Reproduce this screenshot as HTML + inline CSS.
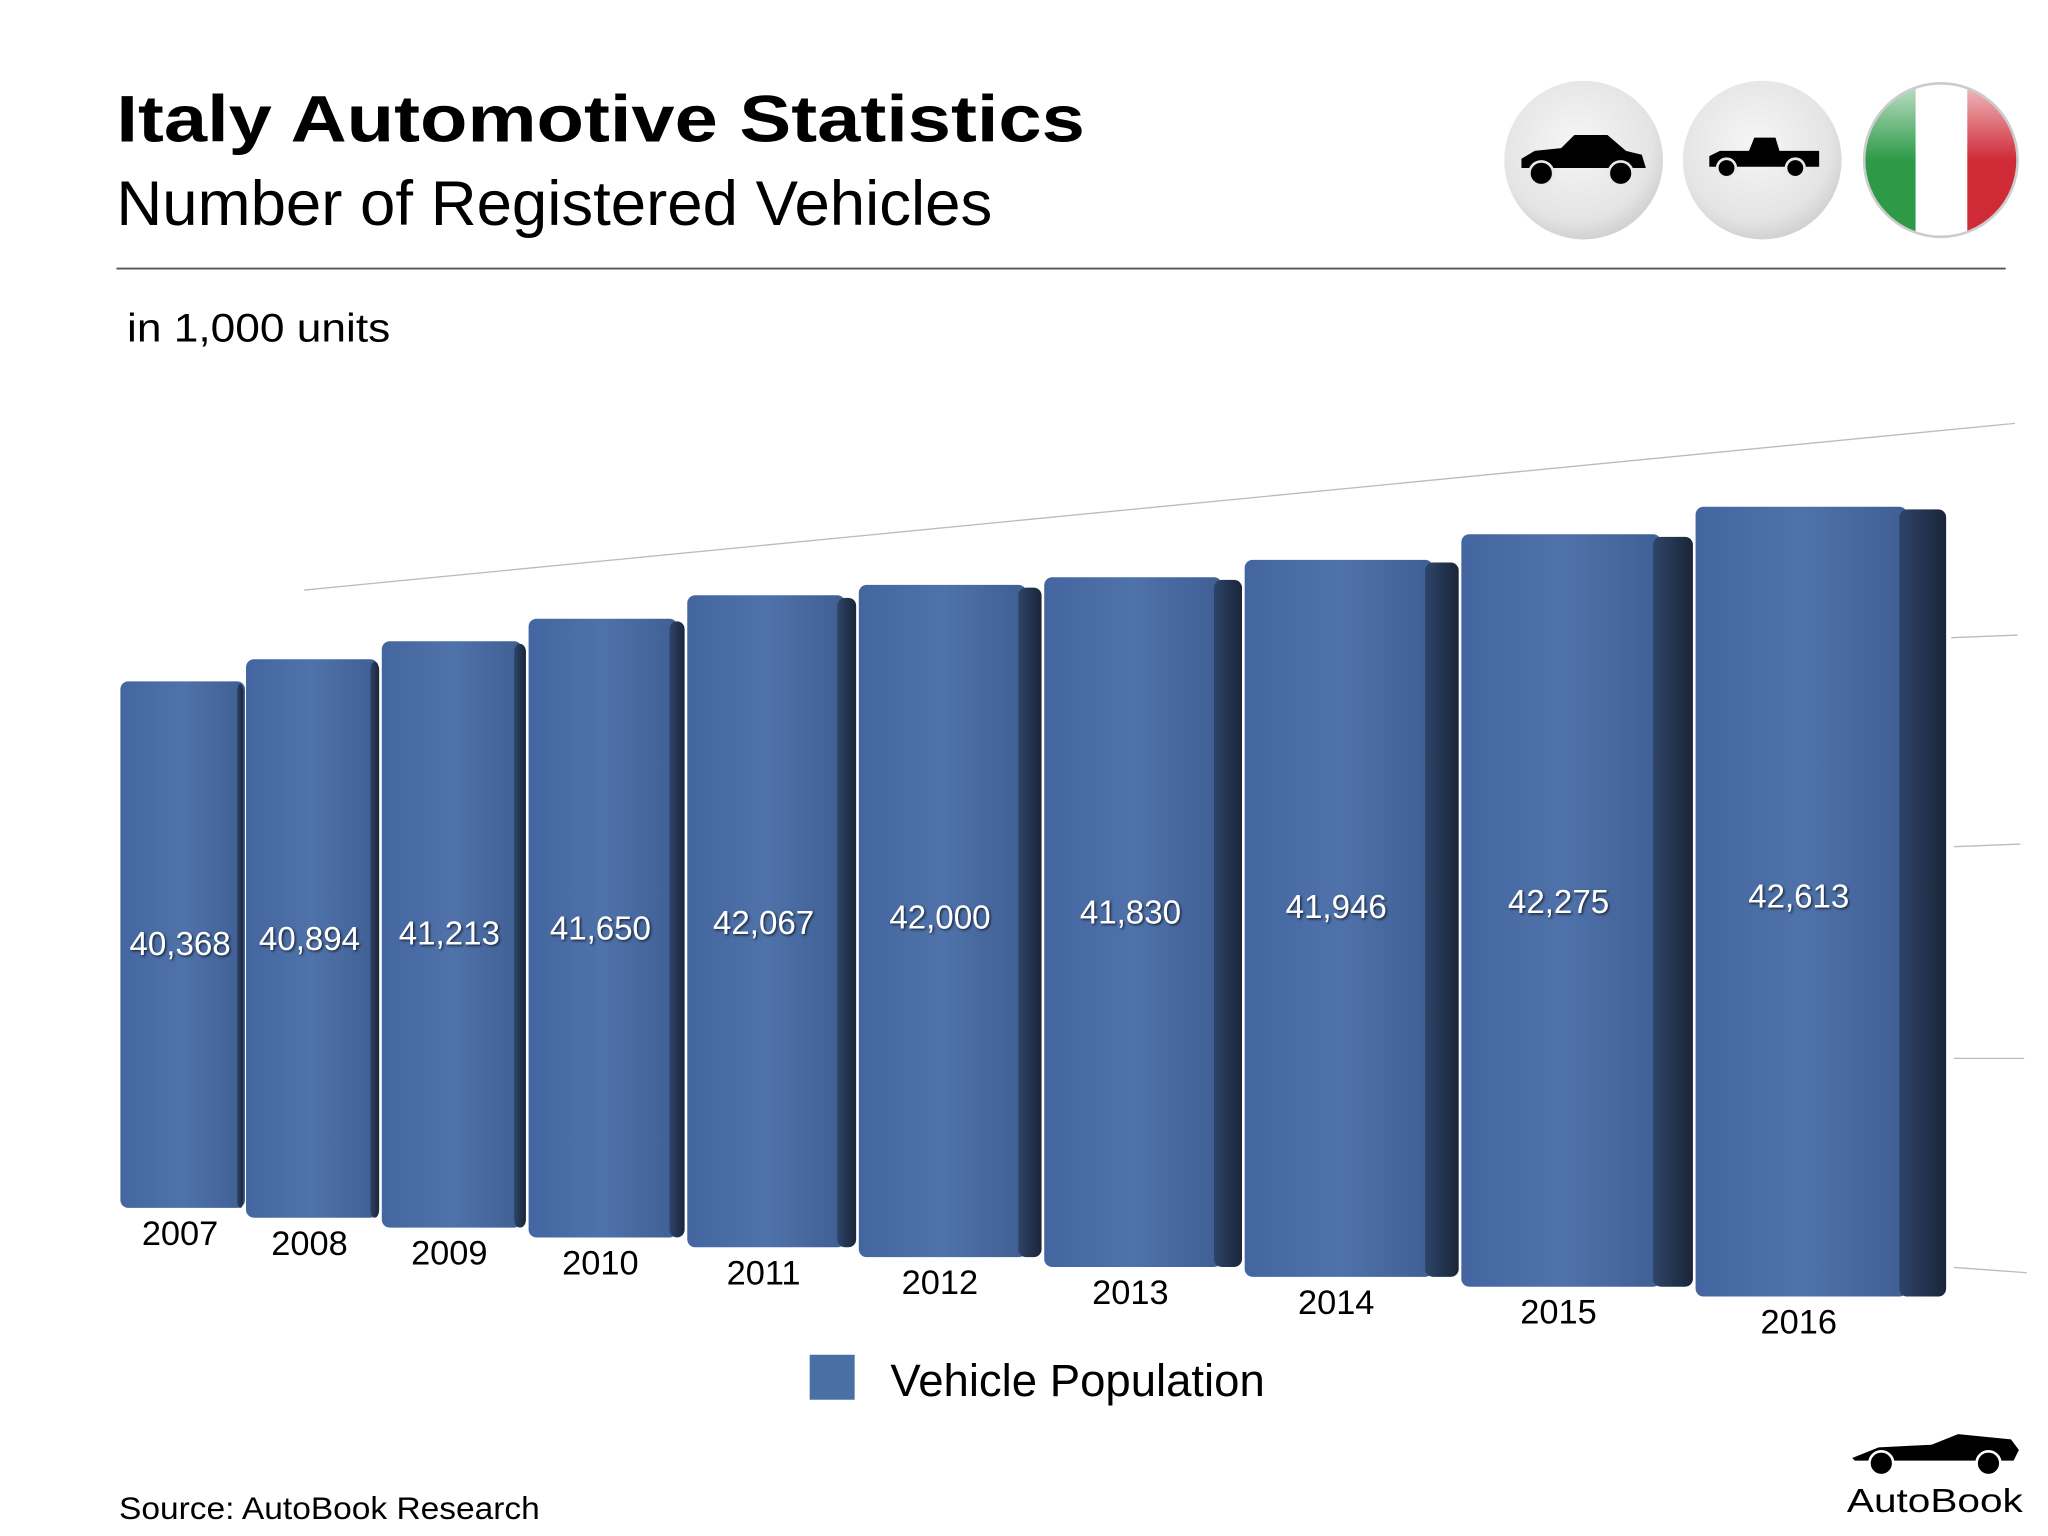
<!DOCTYPE html>
<html><head><meta charset="utf-8"><style>
html,body{margin:0;padding:0;background:#fff;width:2048px;height:1536px;overflow:hidden}
svg{display:block}
text{font-family:"Liberation Sans",sans-serif}
</style></head><body>
<svg id="chart" width="2048" height="1536" viewBox="0 0 1548 1161" preserveAspectRatio="none" xmlns="http://www.w3.org/2000/svg">
<defs>
<linearGradient id="front" x1="0" x2="1" y1="0" y2="0">
<stop offset="0" stop-color="#4466a0"/><stop offset="0.5" stop-color="#4f72aa"/><stop offset="1" stop-color="#3f5f94"/></linearGradient>
<linearGradient id="side" x1="0" x2="1" y1="0" y2="0">
<stop offset="0" stop-color="#2e4468"/><stop offset="1" stop-color="#1a2538"/></linearGradient>
<radialGradient id="btn" cx="0.45" cy="0.4" r="0.6"><stop offset="0" stop-color="#f6f6f6"/><stop offset="0.8" stop-color="#e4e4e4"/><stop offset="1" stop-color="#d2d2d2"/></radialGradient>
<linearGradient id="gloss" x1="0" x2="0" y1="0" y2="1"><stop offset="0" stop-color="#fff" stop-opacity="0.7"/><stop offset="0.5" stop-color="#fff" stop-opacity="0"/></linearGradient>
<clipPath id="flagclip"><circle cx="1467" cy="121" r="58"/></clipPath>
<filter id="ts"><feDropShadow dx="1" dy="1" stdDeviation="1" flood-color="#000" flood-opacity="0.7"/></filter>
</defs>
<text x="88" y="107" font-size="50" font-weight="bold" textLength="732" lengthAdjust="spacingAndGlyphs">Italy Automotive Statistics</text>
<text x="88" y="170" font-size="48" textLength="662" lengthAdjust="spacingAndGlyphs">Number of Registered Vehicles</text>
<line x1="88" y1="203" x2="1516" y2="203" stroke="#555" stroke-width="1.5"/>
<text x="96" y="258" font-size="30" textLength="199" lengthAdjust="spacingAndGlyphs">in 1,000 units</text>
<g>
<circle cx="1197" cy="121" r="60" fill="url(#btn)"/>
<path d="M1150 120 l10 -6 l20 -2 l10 -10 l25 0 l14 12 l12 3 l3 10 l-94 0 z" fill="#000"/>
<circle cx="1165" cy="131" r="9" fill="#000" stroke="#e8e8e8" stroke-width="2"/><circle cx="1225" cy="131" r="9" fill="#000" stroke="#e8e8e8" stroke-width="2"/>
</g>
<g>
<circle cx="1332" cy="121" r="60" fill="url(#btn)"/>
<path d="M1292 118 l8 -4 l22 0 l4 -10 l16 0 l3 10 l30 0 l0 12 l-83 0 z" fill="#000"/>
<circle cx="1305" cy="127" r="7" fill="#000" stroke="#e8e8e8" stroke-width="2"/><circle cx="1357" cy="127" r="7" fill="#000" stroke="#e8e8e8" stroke-width="2"/>
</g>
<g>
<g clip-path="url(#flagclip)"><rect x="1409" y="63" width="39" height="116" fill="#2e9a48"/><rect x="1448" y="63" width="39" height="116" fill="#fff"/><rect x="1487" y="63" width="40" height="116" fill="#cf2b37"/><rect x="1409" y="63" width="118" height="116" fill="url(#gloss)"/></g>
<circle cx="1467" cy="121" r="58" fill="none" stroke="#ccc" stroke-width="2"/>
</g>
<g id="grid" stroke="#bbb" stroke-width="1">
<line x1="230" y1="446" x2="1523" y2="320"/>
<line x1="1475" y1="482" x2="1525" y2="480"/>
<line x1="1477" y1="640" x2="1527" y2="638"/>
<line x1="1477" y1="800" x2="1530" y2="800"/>
<line x1="1477" y1="958" x2="1532" y2="962"/>
</g>
<g id="bars"></g>
<g>
<rect x="612" y="1024" width="34" height="34" fill="#4a6fa5"/>
<text x="673" y="1055" font-size="34" textLength="283" lengthAdjust="spacingAndGlyphs">Vehicle Population</text>
</g>
<text x="90" y="1148" font-size="24" textLength="318" lengthAdjust="spacingAndGlyphs">Source:  AutoBook Research</text>
<g>
<path d="M1400 1102 l20 -8 l40 -2 l20 -8 l40 4 l6 8 l-4 8 l-120 0 z" fill="#000"/>
<circle cx="1422" cy="1106" r="9" fill="#000" stroke="#fff" stroke-width="2"/><circle cx="1503" cy="1106" r="9" fill="#000" stroke="#fff" stroke-width="2"/>
<text x="1396" y="1143" font-size="25" textLength="133" lengthAdjust="spacingAndGlyphs">AutoBook</text>
</g>
</svg>
<script>
const categories=["2007","2008","2009","2010","2011","2012","2013","2014","2015","2016"];
const values=[40368,40894,41213,41650,42067,42000,41830,41946,42275,42613];
const valueLabels=["40,368","40,894","41,213","41,650","42,067","42,000","41,830","41,946","42,275","42,613"];
const NS="http://www.w3.org/2000/svg";
const g=document.getElementById('bars');
const n=categories.length;
const growth=1.081, x0=91, xEnd=1473;
let raw=[],sum=0;for(let i=0;i<n;i++){raw.push(Math.pow(growth,i));sum+=raw[i];}
const widths=raw.map(r=>r*(xEnd-x0)/sum);
function xLeft(i){let x=x0;for(let j=0;j<i;j++)x+=widths[j];return x;}
function yBase(i){return 913+(980-913)*i/(n-1);}
function barHeight(i,v){return 0.01954*Math.pow(1.034,i)*(v-20000);}
function mk(t){return document.createElementNS(NS,t);}
for(let i=0;i<n;i++){
  const w=widths[i],x=xLeft(i),yb=yBase(i),h=barHeight(i,values[i]),yt=yb-h;
  const sw=w*(0.05+0.015*i);
  const bg=mk('g');
  
  
  const f=mk('rect');f.setAttribute('x',x);f.setAttribute('y',yt);f.setAttribute('width',w-sw+4);f.setAttribute('height',h);f.setAttribute('rx',6);f.setAttribute('fill','url(#front)');
  const s=mk('rect');s.setAttribute('x',x+w-sw-2);s.setAttribute('y',yt+2);s.setAttribute('width',sw);s.setAttribute('height',h-2);s.setAttribute('rx',6);s.setAttribute('fill','url(#side)');
  bg.appendChild(f);bg.appendChild(s);g.appendChild(bg);
  const vl=mk('text');
  
  
  vl.setAttribute('x',x+(w-sw)/2);vl.setAttribute('y',722-4*i);vl.setAttribute('text-anchor','middle');vl.setAttribute('font-size','25');vl.setAttribute('fill','#fff');vl.setAttribute('filter','url(#ts)');
  vl.textContent=valueLabels[i];g.appendChild(vl);
  const yl=mk('text');
  
  
  yl.setAttribute('x',x+(w-sw)/2);yl.setAttribute('y',yb+28);yl.setAttribute('text-anchor','middle');yl.setAttribute('font-size','26');
  yl.textContent=categories[i];g.appendChild(yl);
}
</script>
</body></html>
